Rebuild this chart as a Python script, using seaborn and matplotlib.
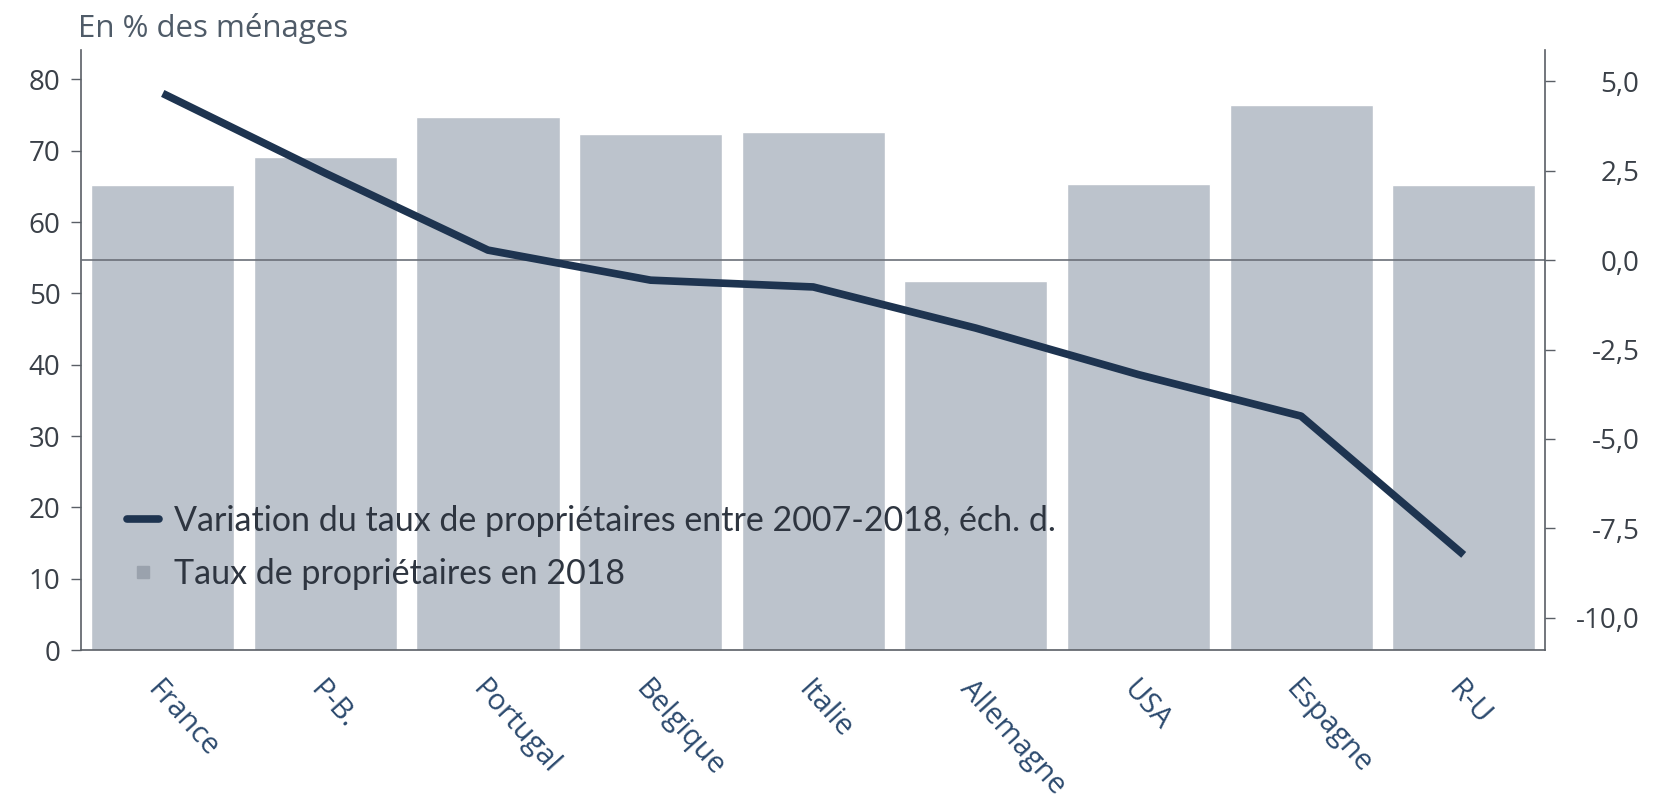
import matplotlib
matplotlib.use("Agg")
import matplotlib.pyplot as plt
import matplotlib.transforms as mtransforms
from matplotlib.lines import Line2D
import numpy as np
import pandas as pd
import seaborn as sns

countries = ["France", "P-B.", "Portugal", "Belgique", "Italie",
             "Allemagne", "USA", "Espagne", "R-U"]
owners_2018 = [65.2, 69.1, 74.7, 72.4, 72.6, 51.7, 65.4, 76.4, 65.2]
change_2007_2018 = [4.66, 2.43, 0.28, -0.56, -0.75, -1.9, -3.2, -4.36, -8.24]
left_ticks = [0, 10, 20, 30, 40, 50, 60, 70, 80]
right_ticks = [5.0, 2.5, 0.0, -2.5, -5.0, -7.5, -10.0]

bar_label = "Taux de propriétaires en 2018"
line_label = "Variation du taux de propriétaires entre 2007-2018, éch. d."
title_text = "En % des ménages"

df = pd.DataFrame({"pays": countries, "taux": owners_2018,
                   "variation": change_2007_2018})
df["pos"] = np.arange(len(df))

sns.set_style("white")
plt.rcParams["font.family"] = ["Open Sans", "DejaVu Sans"]

bar_color = "#bcc3cc"
line_color = "#1e3450"
axis_color = "#5a5f66"
text_color = "#3a4048"
label_color = "#2c4a6e"

fig = plt.figure(figsize=(16.62, 8.09), dpi=100)
ax = fig.add_axes([0.049, 0.1965, 0.8806, 0.7415])

sns.barplot(data=df, x="pos", y="taux", color=bar_color, width=0.88,
            saturation=1, ax=ax, order=list(range(len(df))))
ax.set_xlim(-0.5, len(df) - 0.5)
ax.set_ylim(0, 84.1)
ax.set_yticks(left_ticks)
ax.set_yticklabels([str(t) for t in left_ticks], fontsize=20, color=text_color)
ax.set_xticks(range(len(df)))
ax.set_xticklabels(countries, rotation=-48, ha="left", rotation_mode="anchor",
                   fontsize=21, color=label_color)
shift = mtransforms.ScaledTranslation(10 / 100, 0, fig.dpi_scale_trans)
for lbl in ax.get_xticklabels():
    lbl.set_transform(lbl.get_transform() + shift)
ax.tick_params(axis="x", which="major", length=0, pad=18)
ax.set_xticks(np.arange(-0.5, len(df), 1.0), minor=True)
ax.tick_params(axis="x", which="minor", length=12, width=1, color=axis_color,
               direction="out")
ax.tick_params(axis="y", length=7, width=1, color=axis_color, direction="out",
               pad=8)
ax.set_xlabel("")
ax.set_ylabel("")

ax2 = ax.twinx()
sns.lineplot(data=df, x="pos", y="variation", color=line_color, linewidth=5.5,
             ax=ax2, solid_capstyle="butt", solid_joinstyle="round")
ax2.set_ylim(-10.9, 5.87)
ax2.set_yticks(right_ticks)
ax2.set_yticklabels([f"{t:.1f}".replace(".", ",") for t in right_ticks],
                    fontsize=20, color=text_color, ha="right")
ax2.tick_params(axis="y", length=7, width=1, color=axis_color,
                direction="out", pad=61)
ax2.axhline(0, color="#6b7078", linewidth=1.2, zorder=1)
ax2.set_xlim(-0.5, len(df) - 0.5)
ax2.set_xlabel("")
ax2.set_ylabel("")

for a in (ax, ax2):
    a.spines["top"].set_visible(False)
    for s in ("left", "right", "bottom"):
        a.spines[s].set_color(axis_color)
        a.spines[s].set_linewidth(1.2)
ax.spines["right"].set_visible(False)
ax2.spines["left"].set_visible(False)
ax2.spines["bottom"].set_visible(False)

handles = [Line2D([0], [0], color=line_color, linewidth=5.5),
           Line2D([0], [0], color="#9aa2ad", marker="s", markersize=9,
                  linestyle="none")]
leg = ax2.legend(handles, [line_label, bar_label], loc="lower left",
                 bbox_to_anchor=(0.031, 0.1), frameon=False,
                 borderaxespad=0, borderpad=0,
                 handlelength=0.95, handletextpad=0.45, labelspacing=0.62,
                 prop={"family": ["Lato", "DejaVu Sans"], "size": 24.5})
for t in leg.get_texts():
    t.set_color("#2e3540")

fig.text(0.047, 0.946, title_text, fontsize=22.5, color="#4f5b68",
         ha="left", va="bottom")

fig.savefig("out.png", dpi=100)
